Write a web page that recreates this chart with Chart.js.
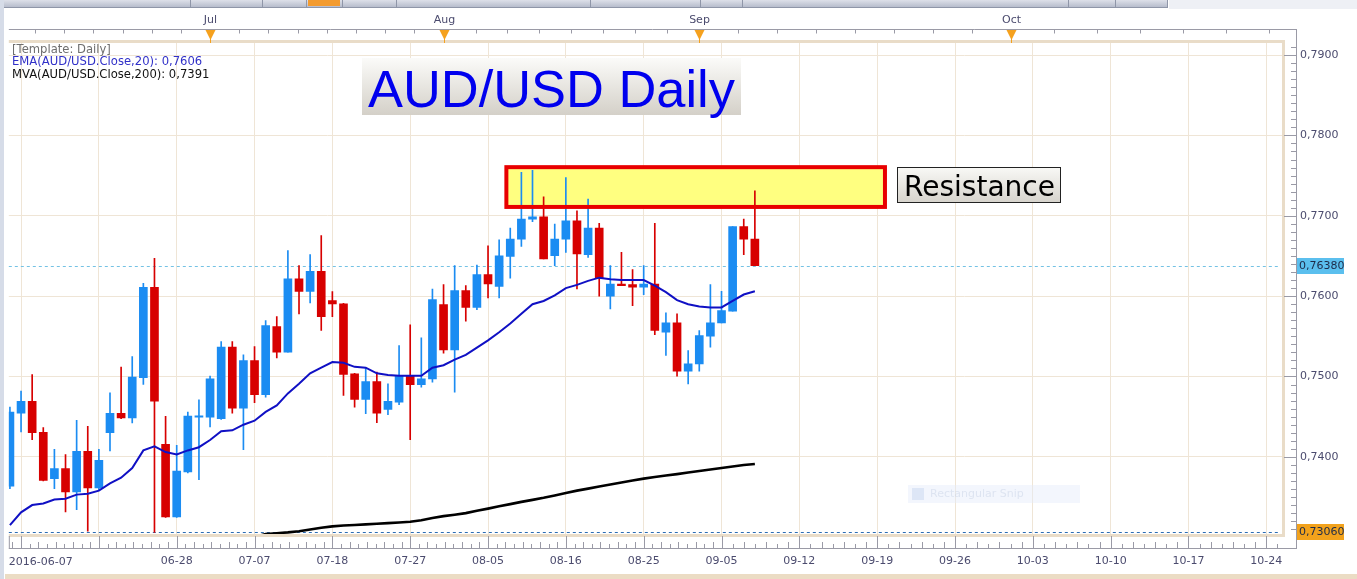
<!DOCTYPE html>
<html lang="en">
<head>
<meta charset="UTF-8" />
<title>AUD/USD Daily</title>
<script src="https://cdn.jsdelivr.net/npm/chart.js"></script>
<style>
    html, body { margin: 0; padding: 0; background: #fff; }
    #wrap { width: 1357px; height: 579px; }
</style>
</head>
<body>
<div id="wrap"><canvas id="chart" width="1357" height="579"></canvas></div>
<script>
const W = 1357, H = 579;
const FONT = 'DejaVu Sans';
const GRID = '#efe5d6';
const UP = '#1b8cf2', DOWN = '#d70000';
const AXIS_TXT = '#4b4b6e';

// trading days shown (index 0..67)
const days = [
    '06-07','06-08','06-09','06-10','06-13','06-14','06-15','06-16','06-17','06-20','06-21','06-22','06-23','06-24','06-27','06-28','06-29','06-30',
    '07-01','07-04','07-05','07-06','07-07','07-08','07-11','07-12','07-13','07-14','07-15','07-18','07-19','07-20','07-21','07-22','07-25','07-26','07-27','07-28','07-29',
    '08-01','08-02','08-03','08-04','08-05','08-08','08-09','08-10','08-11','08-12','08-15','08-16','08-17','08-18','08-19','08-22','08-23','08-24','08-25','08-26','08-29','08-30','08-31',
    '09-01','09-02','09-05','09-06','09-07','09-08'
];
const open = [
    0.73634,0.74545,0.74690,0.74305,0.73729,0.73853,0.73564,0.74069,0.73613,0.74301,0.74541,0.74483,0.74984,0.76110,0.74156,0.73253,0.73812,0.74495,
    0.74495,0.74475,0.75365,0.74607,0.75199,0.74773,0.75622,0.75303,0.76214,0.76060,0.76309,0.75944,0.75903,0.75033,0.74715,0.74938,0.74590,0.74681,0.75004,0.74897,0.74971,
    0.75895,0.75332,0.76068,0.75861,0.76267,0.76122,0.76495,0.76710,0.76959,0.76988,0.76503,0.76710,0.76938,0.76516,0.76847,0.75998,0.76151,0.76143,0.76110,0.76151,0.75551,0.75667,0.75066,
    0.75157,0.75501,0.75667,0.75812,0.76864,0.76710
];
const high = [
    0.74619,0.74818,0.75025,0.74363,0.74094,0.74027,0.74454,0.74379,0.74094,0.74797,0.75116,0.75249,0.76160,0.76470,0.74503,0.74143,0.74557,0.74710,
    0.75004,0.75435,0.75435,0.75270,0.75373,0.75696,0.75746,0.76566,0.76379,0.76516,0.76752,0.76056,0.75910,0.75040,0.75108,0.75054,0.74909,0.75385,0.75642,0.75481,0.76089,
    0.76143,0.76379,0.76131,0.76387,0.76627,0.76702,0.76847,0.77541,0.77566,0.77236,0.76897,0.77476,0.77062,0.77207,0.76905,0.76379,0.76545,0.76329,0.76379,0.76905,0.75791,0.75779,0.75323,
    0.75571,0.76143,0.76060,0.76864,0.76959,0.77311
];
const low = [
    0.73605,0.74309,0.74214,0.73700,0.73605,0.73315,0.73344,0.73075,0.73584,0.74073,0.74475,0.74421,0.74901,0.73060,0.73245,0.73245,0.73800,0.73717,
    0.74371,0.74466,0.74545,0.74089,0.74673,0.74743,0.75232,0.75303,0.75779,0.75915,0.75572,0.75746,0.74764,0.74619,0.74537,0.74425,0.74524,0.74648,0.74214,0.74868,0.74930,
    0.75290,0.74806,0.75687,0.75832,0.75977,0.75977,0.76222,0.76619,0.76926,0.76462,0.76379,0.76545,0.76089,0.76483,0.75998,0.75841,0.76130,0.75882,0.76019,0.75522,0.75261,0.75004,0.74909,
    0.75066,0.75365,0.75667,0.75812,0.76516,0.76379
];
const close = [
    0.74557,0.74690,0.74301,0.73708,0.73853,0.73564,0.74069,0.73613,0.73957,0.74541,0.74483,0.74992,0.76110,0.74694,0.73253,0.73824,0.74508,0.74510,
    0.74971,0.75365,0.74607,0.75199,0.74773,0.75634,0.75303,0.76214,0.76060,0.76309,0.75746,0.75903,0.75025,0.74715,0.74938,0.74545,0.74690,0.75004,0.74897,0.74971,0.75957,
    0.75332,0.76069,0.75861,0.76267,0.76151,0.76503,0.76710,0.76959,0.76988,0.76462,0.76710,0.76938,0.76524,0.76847,0.76222,0.76151,0.76130,0.76110,0.76151,0.75572,0.75667,0.75066,0.75157,
    0.75509,0.75667,0.75820,0.76864,0.76710,0.76380
];
const ema20 = [
    0.7315,0.7331,0.7340,0.7342,0.7347,0.7348,0.7353,0.7354,0.7358,0.7367,0.7374,0.7386,0.7408,0.7413,0.7406,0.7403,0.7408,0.7412,
    0.7421,0.7432,0.7433,0.7440,0.7445,0.7456,0.7464,0.7479,0.7491,0.7504,0.7511,0.7518,0.7517,0.7512,0.7511,0.7504,0.7502,0.7501,0.7501,0.7501,0.7511,
    0.7514,0.7521,0.7527,0.7536,0.7545,0.7555,0.7566,0.7578,0.7590,0.7594,0.7601,0.7610,0.7614,0.7619,0.7623,0.7621,0.7620,0.7620,0.7620,0.7613,0.7605,0.7595,0.7590,
    0.7587,0.7586,0.7586,0.7594,0.7602,0.7606
];
// 200-day average, visible from day index 22 on
const ma200From = 22;
const ma200 = [
    0.73000,0.73040,0.73050,0.73060,0.73075,0.73095,0.73118,0.73135,0.73145,0.73152,0.73160,0.73167,0.73175,0.73183,0.73193,0.73210,0.73240,
    0.73262,0.73280,0.73300,0.73330,0.73356,0.73385,0.73412,0.73440,0.73465,0.73490,0.73520,0.73550,0.73580,0.73605,0.73630,0.73655,0.73680,
    0.73705,0.73729,0.73750,0.73768,0.73785,0.73805,0.73825,0.73843,0.73861,0.73880,0.73898,0.73912
];

const yTicks = [0.74, 0.75, 0.76, 0.77, 0.78, 0.79];
const xTickIdx = [1, 8, 15, 22, 29, 36, 43, 50, 57, 64, 71, 78, 85, 92, 99, 106, 113];
const xTickText = ['', '', '06-28', '07-07', '07-18', '07-27', '08-05', '08-16', '08-25', '09-05', '09-12', '09-19', '09-26', '10-03', '10-10', '10-17', '10-24'];
const firstDateLabel = '2016-06-07';
const monthIdx = [18, 39, 62, 90];
const monthText = ['Jul', 'Aug', 'Sep', 'Oct'];
const resistanceBand = [0.7711, 0.77605];
const resistanceDays = [44.65, 78.7];

const fmt = (v, d) => v.toFixed(d).replace('.', ',');
const candleColor = days.map((d, i) => close[i] >= open[i] ? UP : DOWN);

const wicks = days.map((d, i) => ({ x: i, y: [low[i], high[i]] }));
const bodies = days.map((d, i) => ({ x: i, y: [open[i], close[i]] }));
const emaPts = ema20.map((v, i) => ({ x: i, y: v }));
const maPts = ma200.map((v, i) => ({ x: ma200From + i, y: v }));

function fitFont(c, text, family, target) {
    c.font = '50px "' + family + '"';
    const size = 50 * target / c.measureText(text).width;
    c.font = size.toFixed(2) + 'px "' + family + '"';
}

const decor = {
    id: 'decor',
    beforeDraw(chart) {
        const c = chart.ctx;
        c.save();
        c.fillStyle = '#ffffff';
        c.fillRect(0, 0, W, H);
        // toolbar strip at the very top
        const g = c.createLinearGradient(0, 0, 0, 8);
        g.addColorStop(0, '#dde0e9');
        g.addColorStop(1, '#b2b8c8');
        c.fillStyle = g;
        c.fillRect(0, 0, 1168, 7);
        c.fillStyle = '#8f96a8';
        c.fillRect(0, 7, 1168, 1);
        [190, 262, 306, 342, 396, 590, 700, 742, 1068, 1115, 1167].forEach(x => c.fillRect(x, 0, 1, 7));
        c.fillStyle = '#f39b2f';
        c.fillRect(308, 0, 32, 6);
        c.fillStyle = '#eef0f5';
        c.fillRect(1169, 0, W - 1169, 9);
        // left edge and bottom band
        c.fillStyle = '#d6dce8';
        c.fillRect(0, 0, 4, H);
        c.fillStyle = '#ebdcc4';
        c.fillRect(5, 574, W - 5, 5);
        c.restore();
    },
    beforeDatasetsDraw(chart) {
        const c = chart.ctx, a = chart.chartArea, xs = chart.scales.x, ys = chart.scales.y;
        c.save();
        // resistance zone fill
        const x0 = xs.getPixelForValue(resistanceDays[0]), x1 = xs.getPixelForValue(resistanceDays[1]);
        const y0 = ys.getPixelForValue(resistanceBand[1]), y1 = ys.getPixelForValue(resistanceBand[0]);
        c.fillStyle = '#ffff80';
        c.fillRect(x0, y0, x1 - x0, y1 - y0);
        // last price and lowest low dashed lines
        c.lineWidth = 1;
        c.setLineDash([3, 3]);
        const yl = Math.round(ys.getPixelForValue(close[close.length - 1])) + 0.5;
        c.strokeStyle = '#74c2e4';
        c.beginPath(); c.moveTo(a.left, yl); c.lineTo(a.right - 3, yl); c.stroke();
        const ym = Math.round(ys.getPixelForValue(Math.min(...low))) + 0.5;
        c.strokeStyle = '#2d6db3';
        c.beginPath(); c.moveTo(a.left, ym); c.lineTo(a.right - 3, ym); c.stroke();
        c.restore();
    },
    afterDatasetsDraw(chart) {
        const c = chart.ctx, a = chart.chartArea, xs = chart.scales.x, ys = chart.scales.y;
        c.save();

        // resistance zone border and its label
        const x0 = xs.getPixelForValue(resistanceDays[0]), x1 = xs.getPixelForValue(resistanceDays[1]);
        const y0 = ys.getPixelForValue(resistanceBand[1]), y1 = ys.getPixelForValue(resistanceBand[0]);
        c.strokeStyle = '#e80000';
        c.lineWidth = 4;
        c.strokeRect(x0, y0, x1 - x0, y1 - y0);
        const lx = Math.round(x1 + 12), ly = Math.round((y0 + y1) / 2 - 20);
        let g = c.createLinearGradient(0, ly, 0, ly + 36);
        g.addColorStop(0, '#f9f9f6');
        g.addColorStop(1, '#d6d3cc');
        c.fillStyle = g;
        c.fillRect(lx, ly, 164, 36);
        c.strokeStyle = '#222';
        c.lineWidth = 1;
        c.strokeRect(lx + 0.5, ly + 0.5, 163, 35);
        c.fillStyle = '#000';
        c.textBaseline = 'alphabetic';
        c.textAlign = 'left';
        fitFont(c, 'Resistance', FONT, 151);
        c.fillText('Resistance', lx + 7, ly + 29);

        // beige frame around the plot
        c.strokeStyle = '#e9dcc8';
        c.lineWidth = 3;
        c.beginPath();
        c.moveTo(a.left, a.top - 1.5); c.lineTo(a.right + 0.5, a.top - 1.5);
        c.lineTo(a.right + 0.5, a.bottom + 1.5); c.lineTo(a.left, a.bottom + 1.5);
        c.stroke();

        // right price axis line and ticks
        c.strokeStyle = '#9a9aa6';
        c.lineWidth = 1;
        c.beginPath();
        c.moveTo(1296.5, 29); c.lineTo(1296.5, 549);
        for (let k = 731; k <= 791; k++) {
            const v = k / 1000, y = Math.round(ys.getPixelForValue(v)) + 0.5;
            if (y < a.top || y > a.bottom) continue;
            const major = k % 10 === 0;
            c.moveTo(major ? 1284 : 1291, y); c.lineTo(1296, y);
        }
        c.stroke();

        // bottom date axis tick row
        const by = 548.5;
        c.beginPath();
        c.moveTo(a.left, by); c.lineTo(1296, by);
        c.moveTo(a.left + 0.5, 536); c.lineTo(a.left + 0.5, by);
        xTickIdx.forEach(v => {
            const x = Math.round(xs.getPixelForValue(v)) + 0.5;
            c.moveTo(x, 536); c.lineTo(x, by);
        });
        const minor = [];
        for (let k = 0; k < xTickIdx.length - 1; k++) {
            const s = xTickIdx[k], e = xTickIdx[k + 1], n = e <= 64 ? 9 : 7;
            for (let j = 1; j < n; j++) minor.push([s + (e - s) * j / n, j % 2 === 0]);
        }
        minor.push([xTickIdx[0] - 7 / 9, true], [114, false]);
        minor.forEach(([v, tall]) => {
            const x = Math.round(xs.getPixelForValue(v)) + 0.5;
            c.moveTo(x, tall ? 542 : 544); c.lineTo(x, by);
        });
        c.stroke();

        // header month axis
        c.beginPath();
        c.moveTo(a.left, 29.5); c.lineTo(1296, 29.5);
        const hdr = [];
        const st0 = (monthIdx[1] - monthIdx[0]) / 8;
        for (let v = monthIdx[0] - st0; v > 0; v -= st0) hdr.push(v);
        for (let m = 0; m < monthIdx.length - 1; m++) {
            const st = (monthIdx[m + 1] - monthIdx[m]) / 8;
            for (let j = 1; j < 8; j++) hdr.push(monthIdx[m] + st * j);
        }
        for (let v = monthIdx[monthIdx.length - 1] + 3.87; v < 114.5; v += 3.87) hdr.push(v);
        hdr.forEach(v => {
            const x = Math.round(xs.getPixelForValue(v)) + 0.5;
            c.moveTo(x, 29.5); c.lineTo(x, 33.5);
        });
        c.stroke();
        c.font = '11px "' + FONT + '"';
        c.textAlign = 'center';
        c.textBaseline = 'middle';
        monthIdx.forEach((v, m) => {
            const x = Math.round(xs.getPixelForValue(v)) + 0.5;
            c.fillStyle = AXIS_TXT;
            c.fillText(monthText[m], x, 20);
            c.fillStyle = '#f5a11e';
            c.beginPath();
            c.moveTo(x - 5, 30); c.lineTo(x + 5, 30); c.lineTo(x, 40); c.closePath();
            c.fill();
            c.fillRect(x - 0.5, 38, 1, 5);
        });

        // first date label, left aligned at the plot edge
        c.fillStyle = AXIS_TXT;
        c.textAlign = 'left';
        c.fillText(firstDateLabel, a.left, 562);

        // price tags on the axis
        const tag = (v, bg) => {
            const y = Math.round(ys.getPixelForValue(v));
            c.fillStyle = bg;
            c.fillRect(1297, y - 8, 47, 16);
            c.fillStyle = '#1d2a48';
            c.textAlign = 'left';
            c.fillText(fmt(v, 5), 1299, y + 0.5);
        };
        tag(close[close.length - 1], '#5bbfee');
        tag(Math.min(...low), '#f2a21c');

        // indicator legend
        c.font = '11.6px "' + FONT + '"';
        c.textAlign = 'left';
        c.fillStyle = '#6e6e6e';
        c.fillText('[Template: Daily]', 12, 49.5);
        c.fillStyle = '#3030c8';
        c.fillText('EMA(AUD/USD.Close,20): ' + fmt(ema20[ema20.length - 1], 4), 12, 62);
        c.fillStyle = '#111';
        c.fillText('MVA(AUD/USD.Close,200): ' + fmt(ma200[ma200.length - 1], 4), 12, 75);

        // title box
        g = c.createLinearGradient(0, 58, 0, 115);
        g.addColorStop(0, '#fbfbf9');
        g.addColorStop(1, '#d4d0c8');
        c.fillStyle = g;
        c.fillRect(362, 58, 379, 57);
        c.fillStyle = '#0000ee';
        c.textBaseline = 'alphabetic';
        fitFont(c, 'AUD/USD Daily', 'Liberation Sans', 367);
        c.fillText('AUD/USD Daily', 368, 107);

        // faint leftover snip tooltip
        c.fillStyle = 'rgba(228,236,250,0.45)';
        c.fillRect(908, 485, 172, 18);
        c.fillStyle = 'rgba(200,214,240,0.5)';
        c.fillRect(912, 488, 12, 12);
        c.fillStyle = 'rgba(196,206,226,0.45)';
        c.font = '11px "' + FONT + '"';
        c.textBaseline = 'middle';
        c.fillText('Rectangular Snip', 930, 494);

        c.restore();
    }
};

new Chart(document.getElementById('chart'), {
    type: 'bar',
    data: {
        datasets: [
            { type: 'line', label: 'EMA20', data: emaPts, borderColor: '#1010c4', borderWidth: 2, pointRadius: 0, tension: 0, order: 0, clip: 0 },
            { type: 'line', label: 'MVA200', data: maPts, borderColor: '#000000', borderWidth: 2.6, pointRadius: 0, tension: 0, order: 0, clip: 0 },
            { label: 'body', data: bodies, backgroundColor: candleColor, barThickness: 8, grouped: false, borderWidth: 0, order: 1, clip: 0 },
            { label: 'wick', data: wicks, backgroundColor: candleColor, barThickness: 1, grouped: false, borderWidth: 0, order: 2, clip: 0 }
        ]
    },
    options: {
        responsive: false,
        animation: false,
        devicePixelRatio: 1,
        layout: { padding: { left: 5, top: 43, right: 0, bottom: 0 } },
        plugins: { legend: { display: false }, tooltip: { enabled: false } },
        scales: {
            x: {
                type: 'linear',
                min: -0.1,
                max: 114.5,
                offset: false,
                grid: { color: GRID, drawTicks: false, offset: false },
                border: { display: false },
                afterBuildTicks: s => { s.ticks = xTickIdx.map(v => ({ value: v })); },
                afterFit: s => { s.height = 45; },
                ticks: {
                    callback: v => xTickText[xTickIdx.indexOf(v)],
                    font: { family: FONT, size: 11 },
                    color: AXIS_TXT,
                    padding: 21,
                    maxRotation: 0,
                    autoSkip: false
                }
            },
            y: {
                type: 'linear',
                position: 'right',
                min: 0.7304,
                max: 0.7915,
                beginAtZero: false,
                grid: { color: GRID, drawTicks: false },
                border: { display: false },
                afterBuildTicks: s => { s.ticks = yTicks.map(v => ({ value: v })); },
                afterFit: s => { s.width = 74; },
                ticks: {
                    callback: v => fmt(v, 4),
                    font: { family: FONT, size: 11 },
                    color: AXIS_TXT,
                    padding: 17
                }
            }
        }
    },
    plugins: [decor]
});
</script>
</body>
</html>
